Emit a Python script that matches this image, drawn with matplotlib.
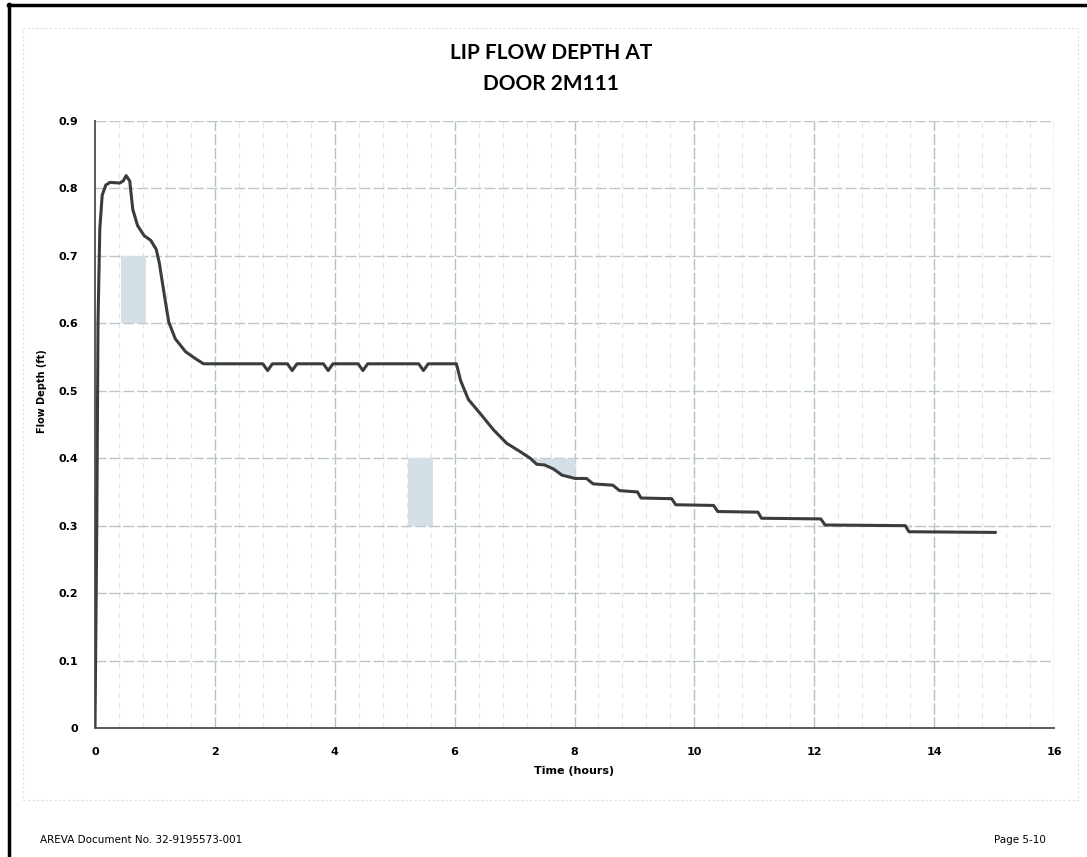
import matplotlib.pyplot as plt
from matplotlib.lines import Line2D
from matplotlib.patches import Rectangle
import numpy as np

# values
time_hr = [0.0, 0.03, 0.05, 0.08, 0.12, 0.18, 0.25, 0.41, 0.47, 0.52, 0.58,
           0.63, 0.71, 0.82, 0.93, 1.02, 1.07, 1.15, 1.23, 1.34, 1.51, 1.67,
           1.81, 2.0, 2.80, 2.88, 2.96, 3.21, 3.29, 3.37, 3.81, 3.89, 3.97,
           4.39, 4.47, 4.55, 5.40, 5.48, 5.56, 6.03, 6.10, 6.23, 6.42, 6.65,
           6.87, 7.09, 7.26, 7.37, 7.50, 7.65, 7.79, 8.01, 8.20, 8.31, 8.64,
           8.75, 9.05, 9.11, 9.62, 9.69, 10.32, 10.39, 11.06, 11.12, 12.11,
           12.18, 13.52, 13.58, 15.02]
depth_ft = [0.0, 0.30, 0.60, 0.74, 0.79, 0.805, 0.809, 0.808, 0.811, 0.819, 0.811,
            0.769, 0.745, 0.730, 0.723, 0.710, 0.691, 0.646, 0.602, 0.577, 0.558, 0.548,
            0.540, 0.540, 0.540, 0.530, 0.540, 0.540, 0.530, 0.540, 0.540, 0.530, 0.540,
            0.540, 0.530, 0.540, 0.540, 0.530, 0.540, 0.540, 0.515, 0.487, 0.467, 0.442,
            0.422, 0.410, 0.400, 0.391, 0.390, 0.384, 0.375, 0.370, 0.370, 0.362, 0.360,
            0.352, 0.350, 0.341, 0.340, 0.331, 0.330, 0.321, 0.320, 0.311, 0.310,
            0.301, 0.300, 0.291, 0.290]

x_ticks = [0, 2, 4, 6, 8, 10, 12, 14, 16]
y_ticks = [0, 0.1, 0.2, 0.3, 0.4, 0.5, 0.6, 0.7, 0.8, 0.9]
y_tick_labels = ['0', '0.1', '0.2', '0.3', '0.4', '0.5', '0.6', '0.7', '0.8', '0.9']
# shaded cells visible in the scan: (t0, t1, d0, d1)
shade_boxes = [(0.44, 0.85, 0.6, 0.7), (5.22, 5.64, 0.3, 0.4)]
shade_wedge = (7.26, 8.01, 0.4)

W, H = 1087, 857
fig = plt.figure(figsize=(W / 100, H / 100), dpi=100)
fig.patch.set_facecolor('white')


def fx(px):
    return px / W


def fy(py):
    return 1 - py / H


# page frame and chart box
fig.add_artist(Line2D([fx(9), fx(9)], [fy(4), 0], transform=fig.transFigure, color='black', lw=2.5))
fig.add_artist(Line2D([fx(8), 1], [fy(5), fy(5)], transform=fig.transFigure, color='black', lw=2.5))
fig.add_artist(Rectangle((fx(23), fy(800)), fx(1078) - fx(23), fy(28) - fy(800),
                         transform=fig.transFigure, fill=False, ec='#dde0e0', lw=0.8, ls=(0, (2, 2))))

ax = fig.add_axes([fx(95), fy(728), fx(1054) - fx(95), fy(121) - fy(728)])
ax.set_xlim(0, 16)
ax.set_ylim(0, 0.9)

# grid
for t in np.arange(0, 16.01, 0.4):
    if abs(t / 2 - round(t / 2)) < 1e-6:
        continue
    ax.axvline(t, color='#e0e6e7', lw=0.8, ls=(0, (5, 4)), zorder=0)
for t in x_ticks[1:]:
    ax.axvline(t, color='#b2c3c6', lw=1.0, ls=(0, (8, 2)), zorder=0)
for d in y_ticks[1:]:
    ax.axhline(d, color='#bcc6c8', lw=1.0, ls=(0, (8, 2)), zorder=0)

for t0, t1, d0, d1 in shade_boxes:
    ax.fill_between([t0, t1], d0, d1, color='#d4dfe6', lw=0, zorder=1)

t = np.array(time_hr)
d = np.array(depth_ft)
tt = np.linspace(shade_wedge[0], shade_wedge[1], 50)
ax.fill_between(tt, np.interp(tt, t, d), shade_wedge[2], color='#d4dfe6', lw=0, zorder=1)

ax.plot(time_hr, depth_ft, color='#3a3d3d', lw=2.2, zorder=3)

for s in ['top', 'right']:
    ax.spines[s].set_visible(False)
for s in ['left', 'bottom']:
    ax.spines[s].set_color('#555a5a')
    ax.spines[s].set_linewidth(1.4)

ax.set_xticks(x_ticks)
ax.set_xticklabels([str(v) for v in x_ticks], fontsize=8, fontweight='bold', family='DejaVu Sans')
ax.set_yticks(y_ticks)
ax.set_yticklabels(y_tick_labels, fontsize=8, fontweight='bold', family='DejaVu Sans')
ax.tick_params(length=0, pad=12)
ax.tick_params(axis='x', pad=14)

ax.set_xlabel('Time (hours)', fontsize=8, fontweight='bold', family='DejaVu Sans', labelpad=6)
ax.set_ylabel('Flow Depth (ft)', fontsize=7, fontweight='bold', family='DejaVu Sans')
ax.yaxis.set_label_coords(-0.05, 0.555)

fig.text(fx(551), fy(53), 'LIP FLOW DEPTH AT', ha='center', va='center',
         fontsize=15, fontweight='bold', family='Lato')
fig.text(fx(551), fy(84), 'DOOR 2M111', ha='center', va='center',
         fontsize=15, fontweight='bold', family='Lato')

fig.text(fx(40), fy(840), 'AREVA Document No. 32-9195573-001', ha='left', va='center', fontsize=7.5)
fig.text(fx(1046), fy(840), 'Page 5-10', ha='right', va='center', fontsize=7.5)

fig.savefig('out.png', dpi=100)
